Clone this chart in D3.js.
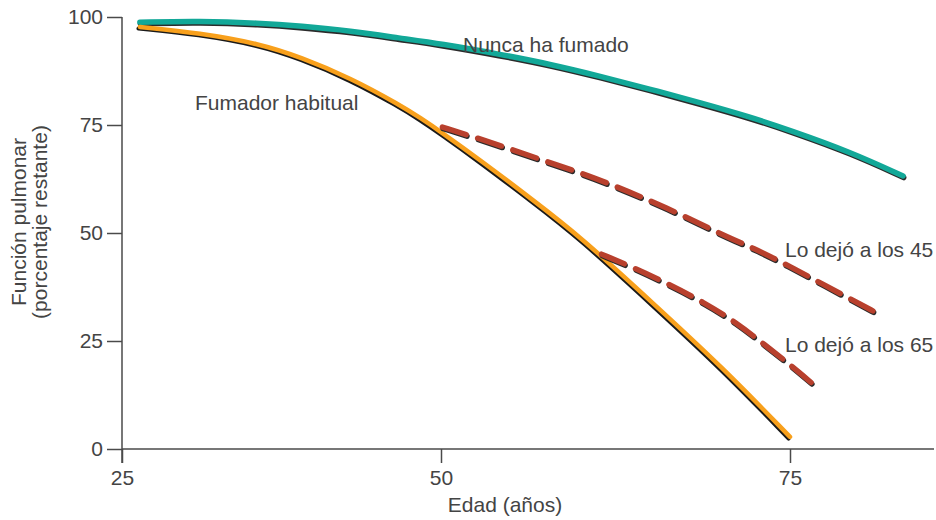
<!DOCTYPE html>
<html>
<head>
<meta charset="utf-8">
<script src="https://cdn.jsdelivr.net/npm/d3@7"></script>
<style>
  body { margin: 0; background: #fff; }
  svg { display: block; font-family: "Liberation Sans", Arial, sans-serif; }
</style>
</head>
<body>
<svg id="chart"></svg>
<script>
// Values (age in years, percent of lung function left)
var neverAges = [26.4, 31.1, 35.8, 39.0, 42.9, 46.8, 50.0, 54.2, 57.8, 61.4, 65.0, 68.6, 72.1, 75.0, 79.3, 83.1];
var neverVals = [98.8, 99.1, 98.6, 97.9, 96.8, 95.1, 93.8, 91.4, 89.1, 86.3, 83.3, 80.1, 76.9, 73.8, 68.8, 63.2];

var smokerAges = [26.4, 31.1, 35.8, 39.0, 42.9, 46.8, 48.4, 50.0, 52.8, 56.6, 60.0, 65.0, 70.2, 75.0];
var smokerVals = [97.7, 96.3, 93.8, 90.7, 85.9, 79.6, 76.6, 73.4, 66.9, 57.6, 49.1, 34.3, 18.8, 2.8];

var quit45Ages = [50.1, 52.6, 55.2, 57.7, 60.2, 62.3, 66.1, 70.2, 72.4, 74.8, 77.2, 81.5];
var quit45Vals = [74.5, 72.0, 69.2, 66.4, 63.7, 61.1, 56.0, 49.5, 46.5, 42.6, 38.4, 31.0];

var quit65Ages = [61.5, 64.0, 66.4, 68.8, 71.1, 73.2, 75.2, 76.8];
var quit65Vals = [45.1, 41.7, 38.0, 34.0, 29.4, 24.1, 19.0, 14.6];

var xTicks = [25, 50, 75];
var yTicks = [0, 25, 50, 75, 100];

var w = 936, h = 520;
var svg = d3.select("#chart").attr("width", w).attr("height", h);

// the original x axis is not evenly spaced, so use a piecewise scale
var x = d3.scaleLinear().domain([25, 50, 75]).range([122, 441, 790]);
var y = d3.scaleLinear().domain([0, 100]).range([449, 17]);

var axisColor = "#4a4a4a";
var textColor = "#444";
var fontSize = 21;

// axis lines
svg.append("line")
  .attr("x1", x(25)).attr("x2", x(25))
  .attr("y1", y(100)).attr("y2", y(0) + 14)
  .attr("stroke", axisColor).attr("stroke-width", 1.5);
svg.append("line")
  .attr("x1", x(25)).attr("x2", 934)
  .attr("y1", y(0)).attr("y2", y(0))
  .attr("stroke", axisColor).attr("stroke-width", 1.5);

var yAxis = svg.append("g")
  .attr("transform", "translate(" + x(25) + ",0)")
  .call(d3.axisLeft(y).tickValues(yTicks).tickSize(15).tickPadding(4));
var xAxis = svg.append("g")
  .attr("transform", "translate(0," + y(0) + ")")
  .call(d3.axisBottom(x).tickValues(xTicks).tickSize(14).tickPadding(7));

[yAxis, xAxis].forEach(function(g) {
  g.select(".domain").remove();
  g.selectAll(".tick line").attr("stroke", axisColor).attr("stroke-width", 1.5);
  g.selectAll(".tick text")
    .attr("fill", textColor)
    .attr("font-size", fontSize)
    .attr("font-family", "Liberation Sans, Arial, sans-serif");
});

// axis titles
svg.append("text")
  .attr("x", 505).attr("y", 512)
  .attr("text-anchor", "middle")
  .attr("font-size", fontSize).attr("fill", textColor)
  .text("Edad (años)");

var ylab = svg.append("g").attr("transform", "translate(26,222) rotate(-90)");
ylab.append("text").attr("x", 0).attr("y", 0)
  .attr("text-anchor", "middle")
  .attr("font-size", fontSize).attr("fill", textColor)
  .text("Función pulmonar");
ylab.append("text").attr("x", 0).attr("y", 21)
  .attr("text-anchor", "middle")
  .attr("font-size", fontSize).attr("fill", textColor)
  .text("(porcentaje restante)");

function zip(a, b) { return a.map(function(v, i) { return [v, b[i]]; }); }

// basis smooths out small reading errors between the points
var line = d3.line()
  .x(function(d) { return x(d[0]); })
  .y(function(d) { return y(d[1]); })
  .curve(d3.curveBasis);

var plot = svg.append("g");

// never smoked: teal with a dark edge underneath
plot.append("path")
  .attr("d", line(zip(neverAges, neverVals)))
  .attr("transform", "translate(0.6,1.6)")
  .attr("fill", "none").attr("stroke", "#2b2b2b")
  .attr("stroke-width", 5.5).attr("stroke-linecap", "round");
plot.append("path")
  .attr("d", line(zip(neverAges, neverVals)))
  .attr("fill", "none").attr("stroke", "#12a898")
  .attr("stroke-width", 5.5).attr("stroke-linecap", "round");

// habitual smoker: orange with black line on the lower-left
plot.append("path")
  .attr("d", line(zip(smokerAges, smokerVals)))
  .attr("transform", "translate(-1.4,1.6)")
  .attr("fill", "none").attr("stroke", "#1a1a1a")
  .attr("stroke-width", 4).attr("stroke-linecap", "round");
plot.append("path")
  .attr("d", line(zip(smokerAges, smokerVals)))
  .attr("fill", "none").attr("stroke", "#f8a01c")
  .attr("stroke-width", 4.5).attr("stroke-linecap", "round");

// quitters: dashed red
[zip(quit45Ages, quit45Vals), zip(quit65Ages, quit65Vals)].forEach(function(pts) {
  plot.append("path")
    .attr("d", line(pts))
    .attr("transform", "translate(0.8,1.5)")
    .attr("fill", "none").attr("stroke", "#2b2b2b")
    .attr("stroke-width", 5.5).attr("stroke-linecap", "round")
    .attr("stroke-dasharray", "25,12");
  plot.append("path")
    .attr("d", line(pts))
    .attr("fill", "none").attr("stroke", "#b8402d")
    .attr("stroke-width", 5.5).attr("stroke-linecap", "round")
    .attr("stroke-dasharray", "25,12");
});

// series labels
var labels = [
  { text: "Nunca ha fumado", x: 463, y: 52 },
  { text: "Fumador habitual", x: 195, y: 110 },
  { text: "Lo dejó a los 45", x: 785, y: 257 },
  { text: "Lo dejó a los 65", x: 785, y: 352 }
];
svg.append("g").selectAll("text")
  .data(labels)
  .enter().append("text")
    .attr("x", function(d) { return d.x; })
    .attr("y", function(d) { return d.y; })
    .attr("font-size", fontSize)
    .attr("fill", textColor)
    .text(function(d) { return d.text; });
</script>
</body>
</html>
